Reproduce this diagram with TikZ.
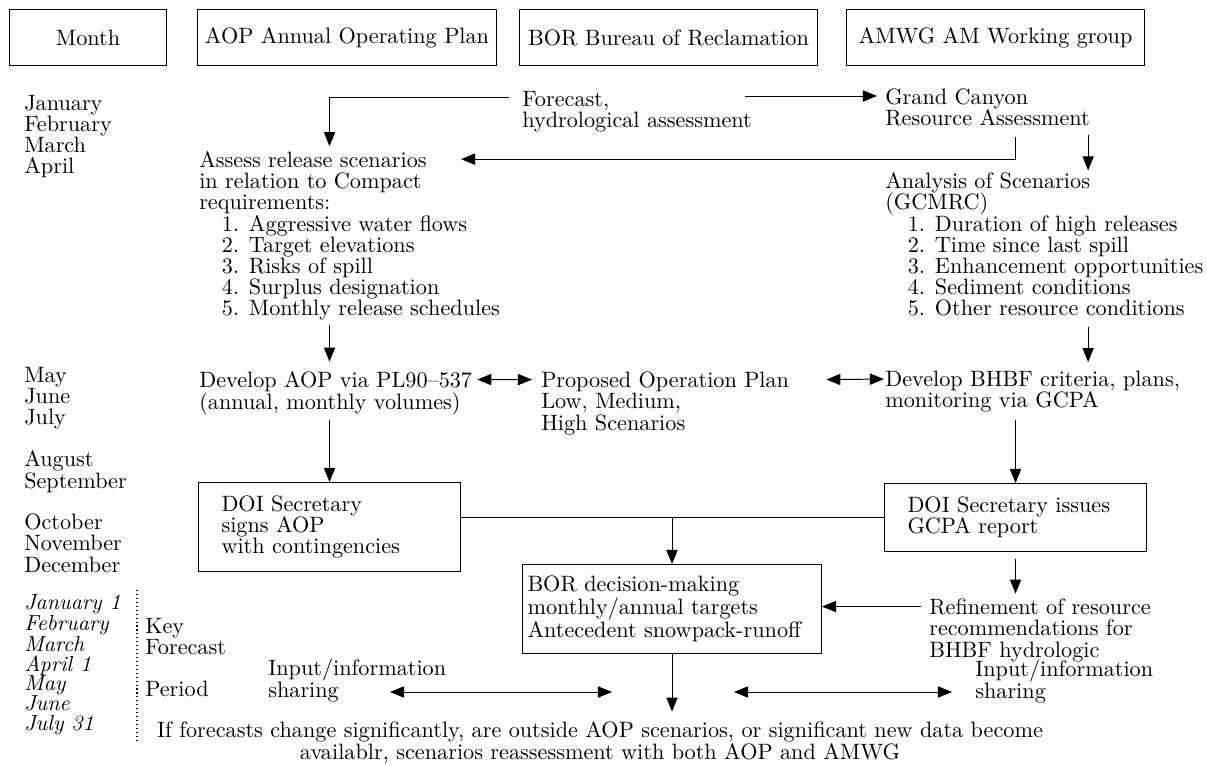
\documentclass[tikz,border=0pt]{standalone}
\usepackage{fontspec}
\setmainfont{lmroman10-regular.otf}[ItalicFont=lmroman10-italic.otf,BoldFont=lmroman10-bold.otf]
\usepackage{tikz}
\usetikzlibrary{positioning,calc,arrows.meta}

\begin{document}
\begin{tikzpicture}[x=0.025cm,y=-0.025cm,
	every node/.style={font=\fontsize{15.8pt}{15.1pt}\selectfont},
	txt/.style={anchor=base west,align=left,inner sep=0pt},
	hdr/.style={draw,line width=0.7pt,minimum height=1.375cm,inner sep=2pt},
	box/.style={draw,line width=0.7pt,anchor=north west,align=left,inner ysep=0pt},
	arr/.style={-{Triangle[length=10pt,width=8pt]},line width=0.7pt},
	dbl/.style={{Triangle[length=10pt,width=8pt]}-{Triangle[length=10pt,width=8pt]},line width=0.7pt}]
	
	\useasboundingbox (0,0) rectangle (1207,766);
	
	% column heads
	\node[hdr,minimum width=3.9cm] (hmonth) at (88,37.5) {Month};
	\node[hdr,minimum width=7.45cm] (haop) at (347,37.5) {AOP Annual Operating Plan};
	\node[hdr,minimum width=7.425cm] (hbor) at (668.5,37.5) {BOR Bureau of Reclamation};
	\node[hdr,minimum width=7.425cm] (hamwg) at (995.5,37.5) {AMWG AM Working group};
	
	% months
	\node[txt] (mjan) at (24,174) {January\\February\\March\\April};
	\node[txt] (mmay) at (24,425) {May\\June\\July};
	\node[txt] (maug) at (24,488) {August\\September};
	\node[txt] (moct) at (24,572) {October\\November\\December};
	\node[txt,font=\fontsize{15.5pt}{13.9pt}\selectfont\itshape] (mkey) at (24,730) {January 1\\February\\March\\April 1\\May\\June\\July 31};
	\draw[dotted,line width=0.8pt] (137,590) -- (137,740);
	\node[txt,font=\fontsize{15.8pt}{14.7pt}\selectfont] (key) at (145,696) {Key\\Forecast\\[14.7pt]Period};
	
	% steps
	\node[txt] (fc) at (522,128) {Forecast,\\hydrological assessment};
	\node[txt] (gcra) at (885,126) {Grand Canyon\\Resource Assessment};
	\node[txt] (assess) at (199,316) {Assess release scenarios\\in relation to Compact\\requirements:\\
		\hspace*{16pt}1. Aggressive water flows\\\hspace*{16pt}2. Target elevations\\\hspace*{16pt}3. Risks of spill\\
		\hspace*{16pt}4. Surplus designation\\\hspace*{16pt}5. Monthly release schedules};
	\node[txt] (anal) at (885,316) {Analysis of Scenarios\\(GCMRC)\\
		\hspace*{16pt}1. Duration of high releases\\\hspace*{16pt}2. Time since last spill\\\hspace*{16pt}3. Enhancement opportunities\\
		\hspace*{16pt}4. Sediment conditions\\\hspace*{16pt}5. Other resource conditions};
	\node[txt] (devaop) at (199,409) {Develop AOP via PL90--537\\(annual, monthly volumes)};
	\node[txt] (prop) at (541,430) {Proposed Operation Plan\\Low, Medium,\\High Scenarios};
	\node[txt] (devbhbf) at (885,408) {Develop BHBF criteria, plans,\\monitoring via GCPA};
	\node[box,text width=5.4cm,inner xsep=0.575cm,minimum height=2.225cm] (doil) at (198,482) {DOI Secretary\\signs AOP\\with contingencies};
	\node[box,text width=5.4cm,inner xsep=0.575cm,minimum height=1.7cm] (dois) at (884,483) {DOI Secretary issues\\GCPA report};
	\node[box,text width=7.225cm,inner xsep=0.125cm,minimum height=2.225cm] (bordec) at (522,564) {BOR decision-making\\monthly/annual targets\\Antecedent snowpack-runoff};
	\node[txt] (refine) at (929,657) {Refinement of resource\\recommendations for\\BHBF hydrologic};
	\node[txt] (inl) at (268,697) {Input/information\\sharing};
	\node[txt] (inr) at (975,698) {Input/information\\sharing};
	\node[anchor=base,align=center,inner sep=0pt] (cond) at (600,759) {If forecasts change significantly, are outside AOP scenarios, or significant new data become\\availablr, scenarios reassessment with both AOP and AMWG};
	
	\coordinate (junc) at (672,517);
	
	% connectors
	\draw[arr] ($(fc.base west)+(-13,-31)$) -| ($(doil.north |- assess.north)+(0,-5)$);
	\draw[arr] ($(fc.base east)+(-7,-32)$) -- ($(gcra.base west)+(-8,-30)$);
	\draw[arr] ($(dois.north |- gcra.base west)+(0,11)$) |- ($(assess.north west)+(262,8)$);
	\draw[arr] ($(gcra.base east)+(-2,9)$) -- ($(gcra.base east |- anal.north)+(-2,-2)$);
	\draw[arr] ($(doil.north |- assess.south)+(0,4)$) -- ($(doil.north |- devaop.north)+(0,-10)$);
	\draw[arr] ($(gcra.base east |- anal.south)+(-2,10)$) -- ($(gcra.base east |- devbhbf.north)+(-2,-9)$);
	\draw[dbl] ($(devaop.north east)+(5,8)$) -- ($(prop.north west)+(-9,8)$);
	\draw[dbl] ($(prop.north east)+(37,8)$) -- ($(devbhbf.north west)+(-1,8)$);
	\draw[arr] ($(doil.north |- devaop.south)+(0,5)$) -- (doil.north);
	\draw[arr] ($(dois.north |- devbhbf.south)+(0,7)$) -- (dois.north);
	\draw[line width=0.7pt] (doil.east |- dois.west) -- (dois.west);
	\draw[arr] (junc) -- (junc |- bordec.north);
	\draw[arr] ($(dois.south)+(0,7)$) -- ($(dois.south |- refine.north)+(0,-5)$);
	\draw[arr] ($(refine.north west)+(-8,8)$) -- ($(bordec.east |- refine.north west)+(0,8)$);
	\draw[arr] (junc |- bordec.south) -- ($(junc |- cond.north)+(0,-10)$);
	\draw[dbl] ($(inl.base west)+(122,-5)$) -- ($(junc |- inl.base west)+(-60,-5)$);
	\draw[dbl] ($(junc |- inr.base west)+(62,-6)$) -- ($(inr.base west)+(-23,-6)$);
	
\end{tikzpicture}
\end{document}
